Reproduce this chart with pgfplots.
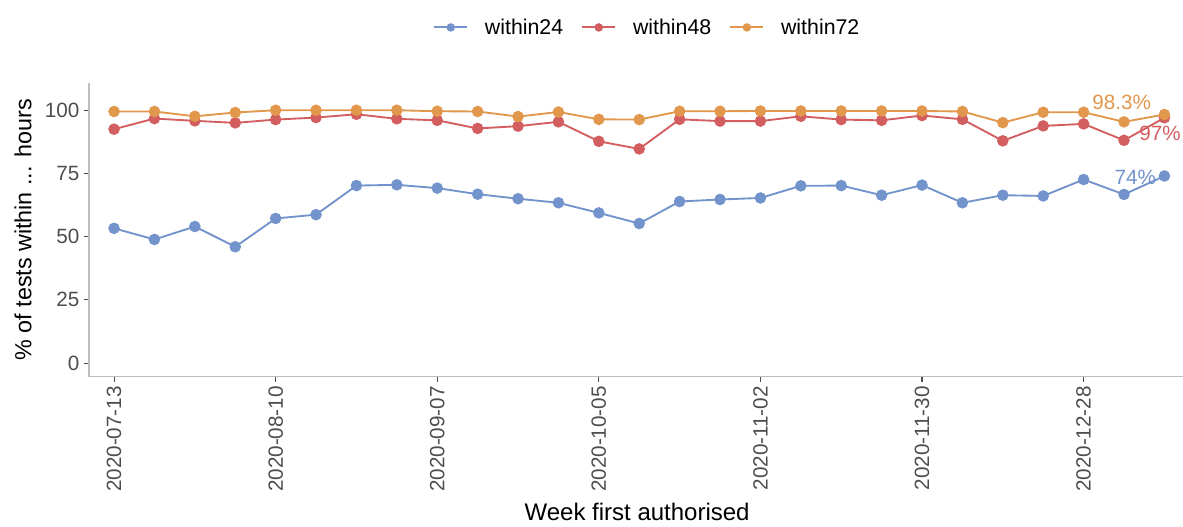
\documentclass[border=0pt]{standalone}
\usepackage{pgfplots}
\usepackage{pgfplotstable}
\pgfplotsset{compat=1.18}
\usepackage{fontspec}
\setmainfont{Liberation Sans}
\definecolor{cblue}{HTML}{7293CB}
\definecolor{cred}{HTML}{D35E60}
\definecolor{corange}{HTML}{E1974C}
\definecolor{tickgray}{HTML}{4D4D4D}
\definecolor{axgray}{HTML}{BEBEBE}

\pgfplotstableread{
x w24 w48 w72
0 53.3 92.5 99.5
1 48.9 96.7 99.5
2 54.0 95.8 97.6
3 46.0 95.0 99.1
4 57.2 96.3 100
5 58.7 97.1 100
6 70.2 98.4 100
7 70.5 96.6 100
8 69.2 96.0 99.6
9 66.8 92.8 99.5
10 65.0 93.7 97.5
11 63.4 95.4 99.3
12 59.4 87.7 96.4
13 55.2 84.7 96.3
14 63.9 96.4 99.6
15 64.7 95.7 99.6
16 65.3 95.7 99.7
17 70.1 97.6 99.7
18 70.2 96.3 99.7
19 66.4 96.0 99.7
20 70.4 97.9 99.7
21 63.4 96.4 99.5
22 66.4 87.9 95.1
23 66.1 93.8 99.2
24 72.6 94.6 99.2
25 66.7 88.1 95.4
26 74.0 97.0 98.3
}\data

\begin{document}
\begin{tikzpicture}
\begin{axis}[
  scale only axis,
  width=820.5pt, height=220pt,
  xmin=-0.62, xmax=26.46, ymin=-5.3, ymax=110.7,
  axis x line=bottom, axis y line=left,
  axis line style={-, draw=axgray, line width=1.1pt},
  every outer x axis line/.append style={-},
  every outer y axis line/.append style={-},
  xtick={0,4,8,12,16,20,24},
  xticklabels={2020-07-13,2020-08-10,2020-09-07,2020-10-05,2020-11-02,2020-11-30,2020-12-28},
  ytick={0,25,50,75,100},
  tick align=outside,
  major tick length=3.75pt,
  tick style={draw=tickgray, line width=0.8pt},
  /pgf/number format/assume math mode=true,
  xticklabel style={rotate=90, anchor=east, font=\fontsize{15.5}{15.5}\selectfont, text=tickgray},
  yticklabel style={font=\fontsize{15.5}{15.5}\selectfont, text=tickgray},
  xlabel={Week first authorised},
  ylabel={\% of tests within ... hours},
  xlabel style={at={(axis description cs:0.501,-0.463)}, anchor=center, font=\fontsize{18}{18}\selectfont},
  ylabel style={at={(axis description cs:-0.0603,0.5)}, anchor=center, font=\fontsize{17.5}{17.5}\selectfont},
  legend style={at={(0.5106,1.19)}, anchor=center, draw=none, fill=none,
    legend columns=3, font=\fontsize{16}{16}\selectfont,
    /tikz/every odd column/.append style={column sep=10.5pt},
    /tikz/every even column/.append style={column sep=11.5pt}},
  legend cell align=left,
  legend image code/.code={\draw[line width=1.5pt, mark size=2.4pt, mark repeat=2,mark phase=2] plot coordinates {(0cm,0cm) (0.4366cm,0cm) (0.8731cm,0cm)};},
  every axis plot/.append style={line width=1.4pt, mark=*, mark size=3.6pt},
  clip=false,
]
\addplot[color=cblue, mark options={solid, fill=cblue, draw=cblue}] table[x=x, y=w24] {\data};
\addlegendentry{within24}
\addplot[color=cred, mark options={solid, fill=cred, draw=cred}] table[x=x, y=w48] {\data};
\addlegendentry{within48}
\addplot[color=corange, mark options={solid, fill=corange, draw=corange}] table[x=x, y=w72] {\data};
\addlegendentry{within72}
\node[text=corange, font=\fontsize{15.5}{15.5}\selectfont] at (axis cs:24.94,103.0) {98.3\%};
\node[text=cred, font=\fontsize{15.5}{15.5}\selectfont] at (axis cs:25.89,91.0) {97\%};
\node[text=cblue, font=\fontsize{15.5}{15.5}\selectfont] at (axis cs:25.28,73.6) {74\%};
\end{axis}
\pgfresetboundingbox
\path (current axis.south west) ++(-66.75pt,-112.125pt) rectangle ++(887.25pt,394.5pt);
\end{tikzpicture}
\end{document}
